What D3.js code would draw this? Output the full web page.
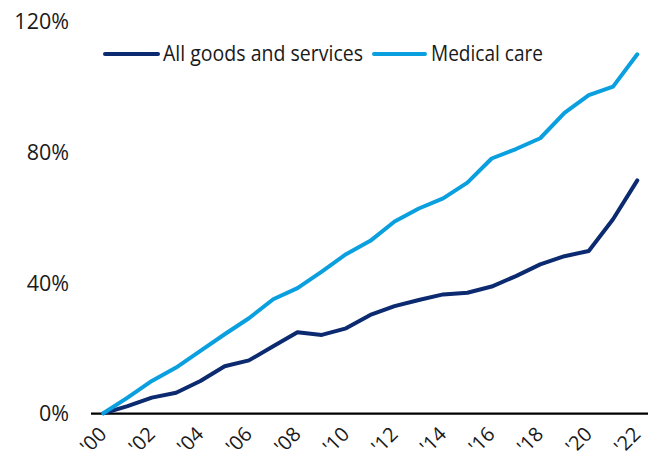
<!DOCTYPE html>
<html>
<head>
<meta charset="utf-8">
<script src="https://cdn.jsdelivr.net/npm/d3@7"></script>
<style>
  html, body { margin: 0; padding: 0; background: #fff; }
  svg { display: block; }
  text { font-family: "Open Sans", "Noto Sans", sans-serif; fill: #1a1a1a; }
</style>
</head>
<body>
<svg id="chart" width="659" height="462"></svg>
<script>
// Cumulative price change since 2000, in percent
const years = d3.range(2000, 2023);
const allGoods = [0, 2.2, 4.8, 6.3, 9.9, 14.4, 16.2, 20.5, 24.8, 24.0, 26.0, 30.1, 32.8, 34.7, 36.4, 36.9, 38.8, 42.0, 45.6, 48.1, 49.7, 59.4, 71.3];
const medical  = [0, 4.8, 9.9, 14.0, 19.1, 24.2, 29.1, 34.9, 38.3, 43.4, 48.7, 52.8, 58.7, 62.7, 65.8, 70.6, 78.0, 80.9, 84.2, 92.0, 97.4, 100.0, 109.9];
const yTicks = [0, 40, 80, 120];
const xTicks = d3.range(2000, 2023, 2);
const seriesNames = ["All goods and services", "Medical care"];
const seriesColors = ["#0b2a6f", "#0a9fde"];

const svg = d3.select("#chart");

const x = d3.scaleLinear().domain([2000, 2022]).range([103.3, 637.3]);
const y = d3.scaleLinear().domain([0, 120]).range([413.3, 21.3]);

// y-axis labels (no axis line)
const yAxis = d3.axisLeft(y).tickValues(yTicks).tickSize(0).tickPadding(0)
  .tickFormat(d => d + "%");
svg.append("g").attr("transform", "translate(69,0)").call(yAxis)
  .call(g => g.select(".domain").remove())
  .call(g => g.selectAll("text")
    .attr("font-size", 21.5).attr("dy", "0.35em")
    .attr("font-family", null).attr("fill", "#1a1a1a"));

// x-axis labels, rotated
const xAxis = d3.axisBottom(x).tickValues(xTicks).tickSize(0)
  .tickFormat(d => "'" + String(d).slice(2));
svg.append("g").attr("transform", "translate(0,413.5)").call(xAxis)
  .call(g => g.select(".domain").remove())
  .call(g => g.selectAll("text")
    .attr("font-size", 20)
    .attr("font-family", null).attr("fill", "#1a1a1a")
    .attr("text-anchor", "end")
    .attr("y", 0).attr("dy", 0)
    .attr("transform", "translate(4,22) rotate(-45)"));

// baseline at 0%
svg.append("line")
  .attr("x1", 91).attr("x2", 648)
  .attr("y1", y(0) + 0.3).attr("y2", y(0) + 0.3)
  .attr("stroke", "#000").attr("stroke-width", 2.2);

const line = d3.line().x((d, i) => x(years[i])).y(d => y(d));

[allGoods, medical].forEach((vals, k) => {
  svg.append("path")
    .datum(vals)
    .attr("d", line)
    .attr("fill", "none")
    .attr("stroke", seriesColors[k])
    .attr("stroke-width", 4)
    .attr("stroke-linejoin", "round")
    .attr("stroke-linecap", "round");
});

// legend
const legendItems = [
  { x1: 105, x2: 158, tx: 163, tw: 200 },
  { x1: 374, x2: 425, tx: 431, tw: 112 }
];
legendItems.forEach((it, k) => {
  svg.append("line")
    .attr("x1", it.x1).attr("x2", it.x2).attr("y1", 54).attr("y2", 54)
    .attr("stroke", seriesColors[k]).attr("stroke-width", 4)
    .attr("stroke-linecap", "round");
  svg.append("text")
    .attr("x", it.tx).attr("y", 61)
    .attr("font-size", 22)
    .attr("textLength", it.tw)
    .attr("lengthAdjust", "spacingAndGlyphs")
    .text(seriesNames[k]);
});
</script>
</body>
</html>
